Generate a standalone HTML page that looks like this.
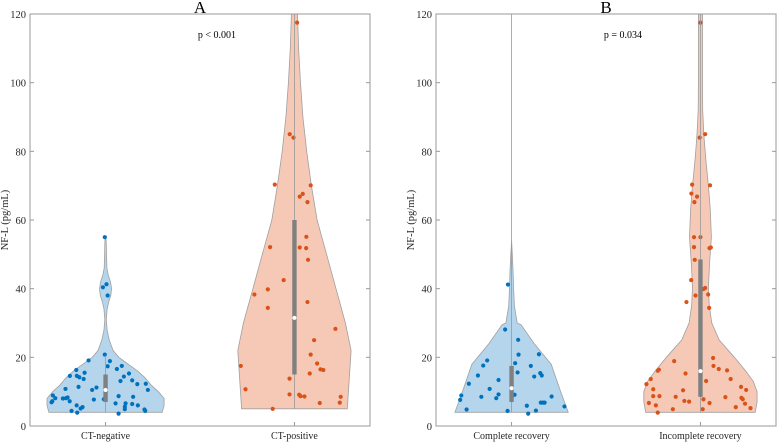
<!DOCTYPE html>
<html><head><meta charset="utf-8">
<style>
body{margin:0;background:#fff;}
svg{display:block;font-family:"Liberation Serif",serif;}
</style></head>
<body>
<svg id="chart" width="777" height="442" viewBox="0 0 777 442"></svg>
<script>
// ---------- data ----------
const panelTitles = ["A", "B"];
const pLabels = ["p < 0.001", "p = 0.034"];
const categoriesA = ["CT-negative", "CT-positive"];
const categoriesB = ["Complete recovery", "Incomplete recovery"];
const yTicks = [0, 20, 40, 60, 80, 100, 120];

// violin density outlines: value levels and half-widths (category units)
const negDensY = [4, 6, 8, 10, 12, 14, 16, 18, 20, 22, 25, 28, 31, 34, 36, 38, 40, 42, 44, 46, 50, 53, 55];
const negDensW = [0.30, 0.31, 0.31, 0.28, 0.24, 0.21, 0.17, 0.12, 0.07, 0.04, 0.02, 0.008, 0.004, 0.008, 0.016, 0.028, 0.032, 0.026, 0.014, 0.007, 0.005, 0.004, 0.002];
const posDensY = [5, 22, 30, 40, 50, 60, 70, 80, 90, 100, 110, 120];
const posDensW = [0.28, 0.30, 0.27, 0.22, 0.17, 0.12, 0.09, 0.065, 0.045, 0.032, 0.022, 0.016];
const compDensY = [4, 10, 18, 24, 29.5, 30, 35, 40, 45, 50, 54];
const compDensW = [0.30, 0.26, 0.21, 0.12, 0.05, 0.03, 0.015, 0.011, 0.008, 0.004, 0.0];
const incDensY = [4, 7, 10, 13, 16, 20, 25, 30, 35, 40, 47, 55, 63, 70, 78, 85, 92, 100, 110, 120];
const incDensW = [0.29, 0.30, 0.30, 0.28, 0.24, 0.18, 0.10, 0.06, 0.047, 0.042, 0.048, 0.058, 0.052, 0.042, 0.028, 0.018, 0.012, 0.011, 0.011, 0.011];

// box stats: [whiskerLow, q1, median, q3, whiskerHigh]
const negBox = [4, 7, 10.5, 15, 20.5];
const posBox = [5, 15, 31.5, 60, 120];
const compBox = [4, 7, 11, 17.5, 120];
const incBox = [4, 8.5, 16, 48.5, 120];

// points: values and horizontal jitter (category units)
const negVals = [55,40.4,41.3,38,20.8,19.1,18.9,16.3,14.6,14.6,14.2,13.7,15.5,17.4,16.6,17.5,15.3,14.4,13.1,13.3,12.2,12.3,10.5,10.8,11.4,10.5,11.2,8.9,8.1,8,8.1,8.3,7.2,6.9,7.2,7.7,7.8,8.7,8.5,6.6,6.6,6.4,6,6,5.5,5.1,5.6,4.9,4.4,3.9,3.6,4.8,4.4];
const negJit = [-0.004,-0.014,0.005,0.011,-0.004,-0.09,0.023,-0.155,-0.189,-0.152,-0.139,-0.116,-0.111,0.011,0.06,0.086,0.124,0.097,0.079,0.141,0.168,0.213,0.224,-0.212,-0.143,-0.071,-0.048,-0.279,-0.266,-0.226,-0.21,-0.201,-0.19,-0.286,-0.282,-0.062,-0.009,0.069,0.146,0.053,0.106,0.141,0.171,-0.153,-0.122,-0.132,0.102,0.102,-0.18,-0.15,0.069,0.206,0.21];
const posVals = [117.5,85,84,70.3,70.1,67.6,66.8,65.2,55.1,52.1,52,51.8,48.4,42.5,38.3,39.8,34.4,36.1,28.3,25,20.8,17.5,18.2,16.5,16.3,15.3,13.8,10.7,9.2,9.1,8.7,8.6,8.5,6.7,6.8,5];
const posJit = [0.014,-0.025,-0.005,-0.104,0.086,0.044,0.028,0.069,0.063,-0.129,0.028,0.062,0.072,-0.057,-0.212,-0.141,-0.141,0.069,0.217,0.104,0.086,-0.284,0.12,0.138,0.153,0.081,-0.026,-0.259,-0.026,0.025,0.032,0.053,0.245,0.134,0.24,-0.115];
const compVals = [41.2,28.1,25.1,19.1,17.6,14.7,12.3,10.8,13.4,18.3,20.8,15.6,20.9,17.5,14.4,15.4,14.7,8.9,7.6,8.5,9.2,8.1,9.1,8.6,6.8,6.8,6.8,5.7,5.9,4.8,4.4,4.5,3.6];
const compJit = [-0.019,-0.034,0.035,-0.129,-0.15,-0.178,-0.226,-0.116,-0.069,0.019,0.037,0.032,0.145,0.102,0.12,0.152,0.16,-0.266,-0.272,-0.16,-0.069,-0.081,0.016,0.212,0.155,0.166,0.175,0.28,0.081,-0.238,-0.021,0.129,0.088];
const incVals = [117.5,84,85,70.3,70.1,67.7,66.8,65.2,55,55,52.1,51.8,52,48.4,42.5,40.2,39.9,38,38.3,36.1,34.4,18.9,19.8,17.5,16.6,16.2,16.4,16.1,15.3,13.7,13.7,13.1,12.2,10.7,10.4,11.4,10.5,8.7,8.7,8.5,8.4,8.2,7.8,7.3,7.1,7.8,6.7,6.7,6.5,6,5.5,4.9,4.9,5.2,3.9];
const incJit = [0,-0.004,0.025,-0.044,0.051,-0.048,-0.018,-0.032,-0.034,0,-0.034,0.048,0.055,-0.03,-0.049,0.025,0.016,-0.026,0.041,-0.074,0.046,-0.139,0.067,0.069,0.097,0.141,-0.22,-0.226,-0.079,-0.263,0.16,0.03,-0.286,-0.25,-0.092,0.215,0.242,-0.25,-0.217,-0.131,0.132,0.217,0.224,-0.085,-0.06,0.016,-0.273,0.048,0.236,-0.236,0.187,-0.146,0.012,0.265,-0.226];

// ---------- drawing ----------
const NS = "http://www.w3.org/2000/svg";
const svg = document.getElementById("chart");
function mk(tag, attrs, parent) {
  const e = document.createElementNS(NS, tag);
  for (const k in attrs) e.setAttribute(k, attrs[k]);
  (parent || svg).appendChild(e);
  return e;
}
const Y0 = 426, Y1 = 14;
function yScale(v) { return Y0 - (v / 120) * (Y0 - Y1); }

const panels = [
  { left: 30, right: 370, title: panelTitles[0], p: pLabels[0], cats: categoriesA,
    groups: [
      { dy: negDensY, dw: negDensW, box: negBox, vals: negVals, jit: negJit, fill: "#b5d5ec", dot: "#0072BD" },
      { dy: posDensY, dw: posDensW, box: posBox, vals: posVals, jit: posJit, fill: "#f6c8b6", dot: "#D95319" } ] },
  { left: 436, right: 776, title: panelTitles[1], p: pLabels[1], cats: categoriesB,
    groups: [
      { dy: compDensY, dw: compDensW, box: compBox, vals: compVals, jit: compJit, fill: "#b5d5ec", dot: "#0072BD" },
      { dy: incDensY, dw: incDensW, box: incBox, vals: incVals, jit: incJit, fill: "#f6c8b6", dot: "#D95319" } ] }
];

panels.forEach((P, pi) => {
  const g = mk("g", {});
  
  
  const xScale = v => P.left + (v - 0.6) / 1.8 * (P.right - P.left);
  const unit = (P.right - P.left) / 1.8;
  const clip = mk("clipPath", { id: "clip" + pi }, g);
  mk("rect", { x: P.left, y: Y1, width: P.right - P.left, height: Y0 - Y1 }, clip);
  const plot = mk("g", { "clip-path": "url(#clip" + pi + ")" }, g);

  P.groups.forEach((G, gi) => {
    const cx = xScale(gi + 1);
    let d = "";
    G.dy.forEach((v, i) => { d += (i ? "L" : "M") + (cx + G.dw[i] * unit).toFixed(1) + "," + yScale(v).toFixed(1); });
    for (let i = G.dy.length - 1; i >= 0; i--) d += "L" + (cx - G.dw[i] * unit).toFixed(1) + "," + yScale(G.dy[i]).toFixed(1);
    d += "Z";
    const vio = mk("path", { d: d, fill: G.fill, stroke: "#a0a0a0", "stroke-width": 0.8 }, plot);
    
    
    G.vals.forEach((v, i) => {
      const c = mk("circle", { cx: xScale(gi + 1 + G.jit[i]), cy: yScale(v), r: 2.1, fill: G.dot }, plot);
      
      
    });
    const b = G.box;
    const wh = mk("line", { x1: cx, x2: cx, y1: yScale(b[0]), y2: yScale(b[4]), stroke: "#999", "stroke-width": 0.8 }, plot);
    
    
    const bx = mk("rect", { x: cx - 2.2, y: yScale(b[3]), width: 4.4, height: yScale(b[1]) - yScale(b[3]), fill: "#808080" }, plot);
    
    
    const md = mk("circle", { cx: cx, cy: yScale(b[2]), r: 2, fill: "#fff" }, plot);
    
    
    const lbl = mk("text", { x: cx, y: Y0 + 13, "font-size": 10, "text-anchor": "middle", fill: "#262626" }, g);
    lbl.textContent = P.cats[gi];
    
    
  });

  // axes box
  const frame = mk("rect", { x: P.left, y: Y1, width: P.right - P.left, height: Y0 - Y1, fill: "none", stroke: "#999", "stroke-width": 1 }, g);
  
  
  yTicks.forEach(t => {
    const y = yScale(t);
    mk("line", { x1: P.left, x2: P.left + 4, y1: y, y2: y, stroke: "#999" }, g);
    mk("line", { x1: P.right, x2: P.right - 4, y1: y, y2: y, stroke: "#999" }, g);
    const tl = mk("text", { x: P.left - 4, y: y + 4, "font-size": 10.5, "text-anchor": "end", fill: "#262626" }, g);
    tl.textContent = t;
    
    
  });
  [1, 2].forEach(c => {
    mk("line", { x1: xScale(c), x2: xScale(c), y1: Y0, y2: Y0 - 4, stroke: "#999" }, g);
  });
  const yt = mk("text", { transform: "translate(" + (P.left - 22) + "," + ((Y0 + Y1) / 2) + ") rotate(-90)", "font-size": 10.5, "text-anchor": "middle", fill: "#262626" }, g);
  yt.textContent = "NF-L (pg/mL)";
  
  
  const ti = mk("text", { x: (P.left + P.right) / 2, y: 13, "font-size": 17, "text-anchor": "middle", fill: "#000" }, g);
  ti.textContent = P.title;
  
  
  const pt = mk("text", { x: (P.left + P.right) / 2 + 17, y: 38, "font-size": 10, "text-anchor": "middle", fill: "#000" }, g);
  pt.textContent = P.p;
  
  
});
</script>
</body></html>
